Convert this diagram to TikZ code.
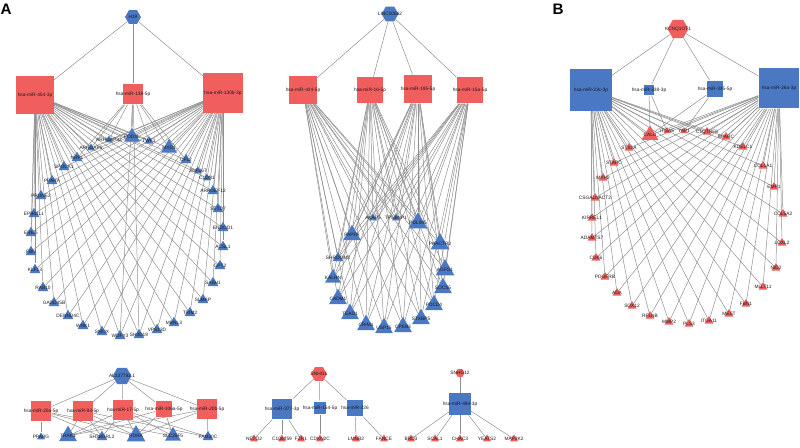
\documentclass[tikz,border=0pt]{standalone}
\usepackage{fontspec}
\setmainfont{Liberation Sans}
\usetikzlibrary{shapes.geometric,backgrounds}
\definecolor{nodeblue}{HTML}{4A78C2}
\definecolor{nodered}{HTML}{F15E5E}
\definecolor{edgegray}{HTML}{8E8E8E}

\tikzset{
  lbl/.style={font=\fontsize{4.1}{4.5}\selectfont, inner sep=0pt, text=black!90},
  lnc/.style 2 args={regular polygon, regular polygon sides=6, fill=#1, inner sep=0pt, minimum size=#2*0.85pt},
  mir/.style 2 args={rectangle, fill=#1, inner sep=0pt, minimum size=#2*0.85pt},
  tgt/.style 2 args={regular polygon, regular polygon sides=3, fill=#1, inner sep=0pt, minimum size=#2*0.98pt},
  link/.style={draw=edgegray, line width=0.42pt},
  panel/.style={font=\bfseries\fontsize{13}{13}\selectfont, inner sep=0pt},
}

% target lists per network
\def\netAgenes{ARHGAP32,PODXL,TWF1,MXD1,CFL2,ZNF367,CLDN1,ARHGEF12,SETD7,ENDOD1,ACSL1,GPT2,SASH1,SLMAP,TRIM2,MBNL3,VPS13D,SH3D19,WDFY3,SMOX,WNK1,DENND4C,GADD45B,RAB10,KLF13,FBN,EREG,EPB41L1,PRUNE2,PPARA,SPOCK1,NRP1,ARHGAP5}
\def\netBgenes{AKAP5,TP53INP1,PDLIM5,PAPPA,PHACTR2,SHROOM3,AGFG1,KALRN,SOCS5,CADM1,PDCD4,TEAD1,STXBP5,CRIM1,USP15,CPEB3}
\def\netCgenes{CALU,ITGA5,YAP1,C1QTNF6,SPARC,KDELC1,STX1A,COL1A1,STARC,MYH2,CSGALNACT2,KIRREL1,ADAMTS7,CDK6,PDGFRB,ADA,SOX12,RFLNB,MMP2,PLS3,ITGA11,MEST,FBN1,MLLT11,NID2,LOXL2,COL5A2,EMP1}

\begin{document}
\begin{tikzpicture}[x=0.03cm,y=-0.03cm]
\useasboundingbox (0,0) rectangle (800,448);

\node[panel] (panelA) at (6,9) {A};
\node[panel] (panelB) at (558,9) {B};

% ---- H19 network
\node[lnc={nodeblue}{16}, label={[lbl]center:H19}] (H19) at (133,17) {};
\node[mir={nodered}{38}, label={[lbl]center:hsa-miR-454-3p}] (m454) at (35,95) {};
\node[mir={nodered}{21}, label={[lbl]center:hsa-miR-138-5p}] (m138) at (133,94) {};
\node[mir={nodered}{40}, label={[lbl]center:hsa-miR-130b-3p}] (m130b) at (223,93) {};
\foreach \n/\x/\y/\s in {ARHGAP32/109/140/8, PODXL/132/137/16, TWF1/149/141/9, MXD1/169/148/16,
  CFL2/186/160/11, ZNF367/198/171/8, CLDN1/207/178/8, ARHGEF12/213/191/11, SETD7/218/209/11,
  ENDOD1/223/228/11, ACSL1/223/247/11, GPT2/220/266/11, SASH1/213/283/11, SLMAP/203/300/11,
  TRIM2/190/313/11, MBNL3/174/323/11, VPS13D/157/330/11, SH3D19/139/335/11, WDFY3/120/336/11,
  SMOX/102/332/11, WNK1/83/326/11, DENND4C/68/316/11, GADD45B/54/303/11, RAB10/43/288/11,
  KLF13/35/270/11, FBN/31/252/11, EREG/31/233/11, EPB41L1/34/214/11, PRUNE2/41/196/11,
  PPARA/52/181/11, SPOCK1/64/167/11, NRP1/77/158/11, ARHGAP5/91/148/8}
  \node[tgt={nodeblue}{\s}, label={[lbl]center:\n}] (\n) at (\x,\y) {};

% ---- LINC00662 network
\node[lnc={nodeblue}{17}, label={[lbl]center:LINC00662}] (LINC00662) at (390,14) {};
\node[mir={nodered}{28}, label={[lbl]center:hsa-miR-424-5p}] (m424) at (303,90) {};
\node[mir={nodered}{26}, label={[lbl]center:hsa-miR-16-5p}] (m16) at (370,90) {};
\node[mir={nodered}{29}, label={[lbl]center:hsa-miR-195-5p}] (m195) at (418,89) {};
\node[mir={nodered}{27}, label={[lbl]center:hsa-miR-15a-5p}] (m15a) at (470,90) {};
\foreach \n/\x/\y/\s in {AKAP5/373/218/8, TP53INP1/396/218/8, PDLIM5/418/223/19, PAPPA/352/235/18,
  PHACTR2/440/244/19, SHROOM3/338/258/11, AGFG1/445/270/19, KALRN/333/278/16, SOCS5/443/288/18,
  CADM1/338/299/18, PDCD4/434/305/18, TEAD1/350/314/18, STXBP5/421/319/18, CRIM1/366/325/18,
  USP15/384/328/18, CPEB3/403/327/18}
  \node[tgt={nodeblue}{\s}, label={[lbl]center:\n}] (\n) at (\x,\y) {};

% ---- KCNQ1OT1 network
\node[lnc={nodered}{21}, label={[lbl]center:KCNQ1OT1}] (KCNQ1OT1) at (678,29) {};
\node[mir={nodeblue}{42}, label={[lbl]center:hsa-miR-23c-3p}] (m23c) at (591,90) {};
\node[mir={nodeblue}{11}, label={[lbl]center:hsa-miR-338-3p}] (m338) at (649,90) {};
\node[mir={nodeblue}{17}, label={[lbl]center:hsa-miR-335-5p}] (m335) at (715,89) {};
\node[mir={nodeblue}{41}, label={[lbl]center:hsa-miR-26a-3p}] (m26a) at (779,88) {};
\foreach \n/\x/\y/\s in {CALU/650/135/17, ITGA5/667/131/7, YAP1/684/131/7, C1QTNF6/707/132/9,
  SPARC/726/137/9, KDELC1/743/147/9, STX1A/629/148/9, COL1A1/763/166/9, STARC/614/163/9,
  MYH2/603/178/9, CSGALNACT2/595/198/9, KIRREL1/592/218/9, ADAMTS7/592/238/9, CDK6/596/258/9,
  PDGFRB/605/277/9, ADA/617/293/9, SOX12/632/306/9, RFLNB/650/316/9, MMP2/669/322/9,
  PLS3/689/324/9, ITGA11/709/321/9, MEST/729/314/9, FBN1/746/304/9, MLLT11/763/287/9,
  NID2/776/268/9, LOXL2/782/243/9, COL5A2/783/214/9, EMP1/774/187/9}
  \node[tgt={nodered}{\s}, label={[lbl]center:\n}] (\n) at (\x,\y) {};

% ---- AL137782.1 network
\node[lnc={nodeblue}{19}, label={[lbl]center:AL137782.1}] (AL137782) at (122,376) {};
\node[mir={nodered}{21}, label={[lbl]center:hsa-miR-20a-5p}] (m20a) at (41,411) {};
\node[mir={nodered}{20}, label={[lbl]center:hsa-miR-93-5p}] (m93) at (83,411) {};
\node[mir={nodered}{21}, label={[lbl]center:hsa-miR-17-5p}] (m17) at (123,410) {};
\node[mir={nodered}{17}, label={[lbl]center:hsa-miR-106a-5p}] (m106a) at (164,409) {};
\node[mir={nodered}{20}, label={[lbl]center:hsa-miR-20b-5p}] (m20b) at (207,409) {};
\foreach \n/\x/\y/\s in {PPARG/41/437/8, TRAK1/68/436/18, SH3BGRL2/102/437/11, RORA/136/436/19,
  SLC35F5/173/436/16, FAM20C/208/437/11}
  \node[tgt={nodeblue}{\s}, label={[lbl]center:\n}] (\n) at (\x,\y) {};

% ---- SNHG1 network
\node[lnc={nodered}{16}, label={[lbl]center:SNHG1}] (SNHG1) at (319,374) {};
\node[mir={nodeblue}{21}, label={[lbl]center:hsa-miR-377-3p}] (m377) at (282,409) {};
\node[mir={nodeblue}{13}, label={[lbl]center:hsa-miR-154-5p}] (m154) at (320,408) {};
\node[mir={nodeblue}{17}, label={[lbl]center:hsa-miR-326}] (m326) at (355,408) {};
\foreach \n/\x/\y in {NETO2/254/439, C10orf59/282/439, FZR1/301/439, CDKN2C/320/439,
  LMNB2/356/439, FANCE/384/439}
  \node[tgt={nodered}{8}, label={[lbl]center:\n}] (\n) at (\x,\y) {};

% ---- SNHG12 network
\node[lnc={nodered}{9}, label={[lbl]center:SNHG12}] (SNHG12) at (460,373) {};
\node[mir={nodeblue}{22}, label={[lbl]center:hsa-miR-494-3p}] (m494) at (460,404) {};
\foreach \n/\x/\y in {BRD3/411/439, SCAL1/435/439, CHAC3/460/439, YEATS2/487/439, MAP3K2/514/439}
  \node[tgt={nodered}{8}, label={[lbl]center:\n}] (\n) at (\x,\y) {};

% ---- connectors
\begin{scope}[on background layer]
\foreach \m in {m454,m138,m130b} \draw[link] (H19) -- (\m);
\foreach \g in \netAgenes { \draw[link] (m454) -- (\g); \draw[link] (m130b) -- (\g); }
\foreach \g in {ARHGAP5,ARHGAP32,PODXL,TWF1,MXD1,NRP1,CFL2,WDFY3,SH3D19}
  \draw[link] (m138) -- (\g);

\foreach \m in {m424,m16,m195,m15a} {
  \draw[link] (LINC00662) -- (\m);
  \foreach \g in \netBgenes \draw[link] (\m) -- (\g);
}

\foreach \m in {m23c,m338,m335,m26a} \draw[link] (KCNQ1OT1) -- (\m);
\foreach \g in \netCgenes { \draw[link] (m23c) -- (\g); \draw[link] (m26a) -- (\g); }
\foreach \g in {ITGA5,CALU} \draw[link] (m338) -- (\g);
\foreach \g in {CALU,YAP1} \draw[link] (m335) -- (\g);

\foreach \m in {m20a,m93,m17,m106a,m20b} \draw[link] (AL137782) -- (\m);
\foreach \g in {PPARG,SH3BGRL2,RORA,SLC35F5} \draw[link] (m20a) -- (\g);
\foreach \g in {TRAK1,SH3BGRL2,RORA,FAM20C} \draw[link] (m93) -- (\g);
\foreach \g in {TRAK1,SH3BGRL2,RORA,SLC35F5,FAM20C} \draw[link] (m17) -- (\g);
\foreach \g in {TRAK1,RORA,SLC35F5} \draw[link] (m106a) -- (\g);
\foreach \g in {TRAK1,RORA,FAM20C} \draw[link] (m20b) -- (\g);

\foreach \m in {m377,m154,m326} \draw[link] (SNHG1) -- (\m);
\foreach \g in {NETO2,C10orf59,FZR1} \draw[link] (m377) -- (\g);
\draw[link] (m154) -- (CDKN2C);
\foreach \g in {LMNB2,FANCE} \draw[link] (m326) -- (\g);

\draw[link] (SNHG12) -- (m494);
\foreach \g in {BRD3,SCAL1,CHAC3,YEATS2,MAP3K2} \draw[link] (m494) -- (\g);
\end{scope}
\end{tikzpicture}
\end{document}
